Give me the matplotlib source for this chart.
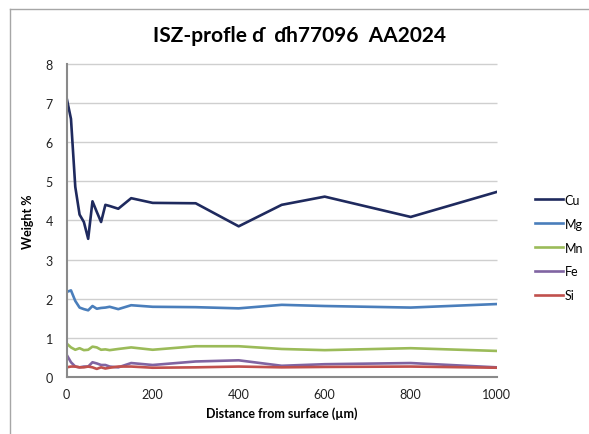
import matplotlib
matplotlib.use("Agg")
import matplotlib.pyplot as plt
from matplotlib.lines import Line2D

plt.rcParams['font.family'] = ['Lato', 'DejaVu Sans']

distance = [0, 10, 20, 30, 40, 50, 60, 70, 80, 90, 100, 120, 150, 200, 300, 400, 500, 600, 800, 1000]
cu = [7.13, 6.60, 4.86, 4.15, 3.96, 3.53, 4.49, 4.22, 3.96, 4.40, 4.37, 4.30, 4.57, 4.45, 4.44, 3.85, 4.40, 4.61, 4.09, 4.73]
mg = [2.17, 2.21, 1.94, 1.77, 1.73, 1.70, 1.81, 1.74, 1.76, 1.77, 1.79, 1.73, 1.83, 1.79, 1.78, 1.75, 1.84, 1.81, 1.77, 1.86]
mn = [0.85, 0.75, 0.69, 0.73, 0.68, 0.69, 0.77, 0.75, 0.69, 0.70, 0.68, 0.71, 0.75, 0.69, 0.78, 0.78, 0.71, 0.68, 0.73, 0.66]
fe = [0.56, 0.37, 0.26, 0.24, 0.26, 0.26, 0.37, 0.34, 0.30, 0.30, 0.26, 0.24, 0.35, 0.30, 0.39, 0.42, 0.28, 0.32, 0.35, 0.24]
si = [0.24, 0.26, 0.26, 0.24, 0.24, 0.26, 0.24, 0.20, 0.24, 0.21, 0.23, 0.26, 0.26, 0.23, 0.24, 0.26, 0.24, 0.25, 0.26, 0.23]

series = [("Cu", cu, "#1f2a5e"), ("Mg", mg, "#4a7ebb"), ("Mn", mn, "#9bbb59"),
          ("Fe", fe, "#8064a2"), ("Si", si, "#c0504d")]

title = "ISZ-profle ɗ  ɗh77096  AA2024"
xlabel = "Distance from surface (µm)"
ylabel = "Weight %"
xticks = [0, 200, 400, 600, 800, 1000]
yticks = [0, 1, 2, 3, 4, 5, 6, 7, 8]

fig = plt.figure(figsize=(5.89, 4.35), dpi=100)
ax = fig.add_axes([0.1132, 0.1317, 0.7301, 0.7184])

ax.set_xlim(xticks[0], xticks[-1])
ax.set_ylim(yticks[0], yticks[-1])
ax.set_xticks(xticks)
ax.set_yticks(yticks)
ax.hlines(yticks[1:], xticks[0], xticks[-1], colors='#cfcfcf', lw=1.0, clip_on=False, zorder=0.5)

for name, vals, col in series:
    ax.plot(distance, vals, color=col, lw=1.9, label=name, solid_joinstyle='round', zorder=2)

for s in ['top', 'right']:
    ax.spines[s].set_visible(False)
for s in ['left', 'bottom']:
    ax.spines[s].set_color('#8a8a8a')
    ax.spines[s].set_linewidth(1.5)
ax.tick_params(axis='both', length=0, labelsize=9, colors='#222222')
ax.tick_params(axis='y', pad=10)
ax.tick_params(axis='x', pad=8)

ax.set_xlabel(xlabel, fontsize=9, fontweight='bold', labelpad=5)
ax.set_ylabel(ylabel, fontsize=9, fontweight='bold', labelpad=8)
fig.text(0.508, 0.918, title, ha='center', va='center', fontsize=15, fontweight='bold')

fig.legend(loc='upper left', bbox_to_anchor=(0.89, 0.578), frameon=False,
           fontsize=9, handlelength=2.2, handletextpad=0.15, labelspacing=0.95)

# outer chart-area border (left & top visible)
fig.add_artist(Line2D([9.5 / 589, 9.5 / 589], [0, 1 - 9.5 / 435], color='#a6a6a6', lw=1.0,
                      transform=fig.transFigure))
fig.add_artist(Line2D([9.5 / 589, 1], [1 - 9.5 / 435, 1 - 9.5 / 435], color='#a6a6a6', lw=1.0,
                      transform=fig.transFigure))

fig.savefig("out.png", dpi=100)
